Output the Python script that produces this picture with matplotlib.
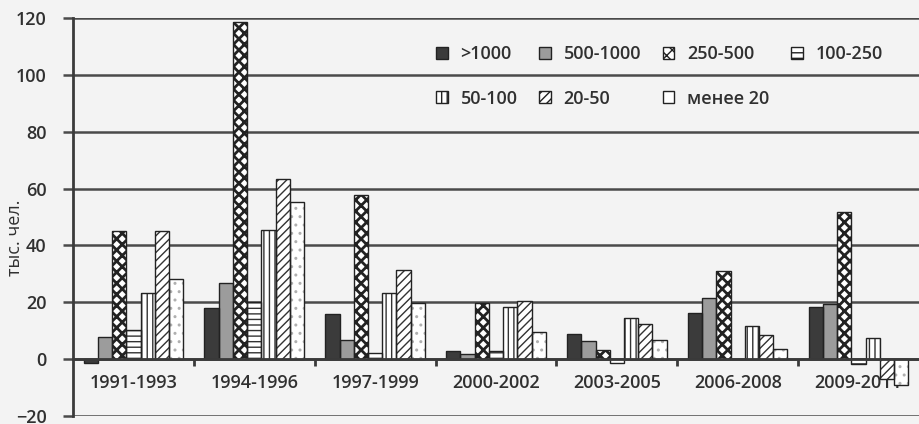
import matplotlib
matplotlib.use('Agg')
import matplotlib.pyplot as plt
from matplotlib.patches import Patch
import numpy as np

periods = ['1991-1993', '1994-1996', '1997-1999', '2000-2002',
           '2003-2005', '2006-2008', '2009-2011']
groups = ['>1000', '500-1000', '250-500', '100-250', '50-100', '20-50', 'менее 20']

# тыс. чел., по группам поселений
v_1000 = [-1.4, 18.0, 16.0, 2.7, 8.8, 16.2, 18.2]
v_500 = [7.9, 26.8, 6.7, 1.8, 6.5, 21.4, 19.4]
v_250 = [45.0, 118.5, 57.6, 19.8, 3.2, 30.9, 51.8]
v_100 = [10.4, 20.0, 2.1, 2.9, -1.2, 0.0, -1.6]
v_50 = [23.3, 45.5, 23.3, 18.2, 14.4, 11.5, 7.4]
v_20 = [45.0, 63.5, 31.5, 20.6, 12.4, 8.5, -7.0]
v_lt20 = [28.2, 55.3, 19.8, 9.4, 6.7, 3.5, -9.0]
series = [v_1000, v_500, v_250, v_100, v_50, v_20, v_lt20]

fills = ['#3b3b3b', '#9c9c9c', 'white', 'white', 'white', 'white', 'white']
hatches = [None, None, 'xxx', '---', '|||', '////', '..']
hcolors = ['#222222', '#222222', '#222222', '#333333', '#333333', '#333333', '#b0b0b0']
hwidths = [1.0, 1.0, 2.0, 1.0, 1.0, 1.0, 1.0]

plt.rcParams['font.family'] = ['Open Sans', 'DejaVu Sans']
plt.rcParams['hatch.linewidth'] = 1.0
txt = '#303030'

fig = plt.figure(figsize=(9.19, 4.24), dpi=100, facecolor='#f3f3f3')
ax = fig.add_axes([0.0794, 0.0189, 0.9206, 0.9386])
ax.set_facecolor('#f3f3f3')

x = np.arange(len(periods))
w = 1 / 8.5
handles = []
for i, vals in enumerate(series):
    pos = x + (i - 3) * w
    # hatch in its own colour, then the dark outline on top
    b = ax.bar(pos, vals, w, color=fills[i], edgecolor=hcolors[i], hatch=hatches[i],
               linewidth=0, zorder=3)
    for p in b.patches:
        try:
            p.set_hatch_linewidth(hwidths[i])
        except AttributeError:
            pass
    ax.bar(pos, vals, w, color='none', edgecolor='#222222', linewidth=1.0, zorder=4)
    lh = hatches[i] if hcolors[i] != '#b0b0b0' else None
    handles.append(Patch(facecolor=fills[i], edgecolor='#222222', hatch=lh, linewidth=1.0))

ax.set_xlim(-0.5, 6.5)
ax.set_ylim(-20, 120)
ax.set_yticks(np.arange(-20, 121, 20))
ax.yaxis.grid(True, color='#4a4a4a', linewidth=1.8, zorder=0)
ax.set_axisbelow(True)

for s in ['top', 'right']:
    ax.spines[s].set_visible(False)
ax.spines['left'].set_color('#3a3a3a')
ax.spines['left'].set_linewidth(2.0)
ax.spines['bottom'].set_position(('data', 0))
ax.spines['bottom'].set_color('#3a3a3a')
ax.spines['bottom'].set_linewidth(2.0)
ax.spines['bottom'].set_zorder(5)

ax.set_xticks(x)
ax.set_xticklabels(periods, fontweight='semibold')
ax.set_xticks(np.arange(0.5, 6.5, 1), minor=True)
ax.tick_params(axis='x', which='major', length=0, pad=11, labelsize=13, labelcolor=txt)
ax.tick_params(axis='x', which='minor', length=5, width=2, color='#3a3a3a')
ax.tick_params(axis='y', length=7, width=1.8, color='#4a4a4a', labelsize=13,
               labelcolor=txt, pad=12)
for t in ax.get_yticklabels():
    t.set_fontweight('semibold')

ax.set_ylabel('тыс. чел.', fontsize=13, color=txt)
ax.yaxis.set_label_coords(-0.058, 0.447)

order = [0, 4, 1, 5, 2, 6, 3]
leg = ax.legend([handles[k] for k in order], [groups[k] for k in order], ncol=4,
                loc='upper left', bbox_to_anchor=(0.41, 0.972), frameon=False,
                fontsize=13, handlelength=0.65, handleheight=0.65, handletextpad=0.7,
                columnspacing=1.2, labelspacing=1.45, labelcolor=txt)
for t in leg.get_texts():
    t.set_fontweight('semibold')

fig.savefig('out.png', dpi=100, facecolor=fig.get_facecolor())
